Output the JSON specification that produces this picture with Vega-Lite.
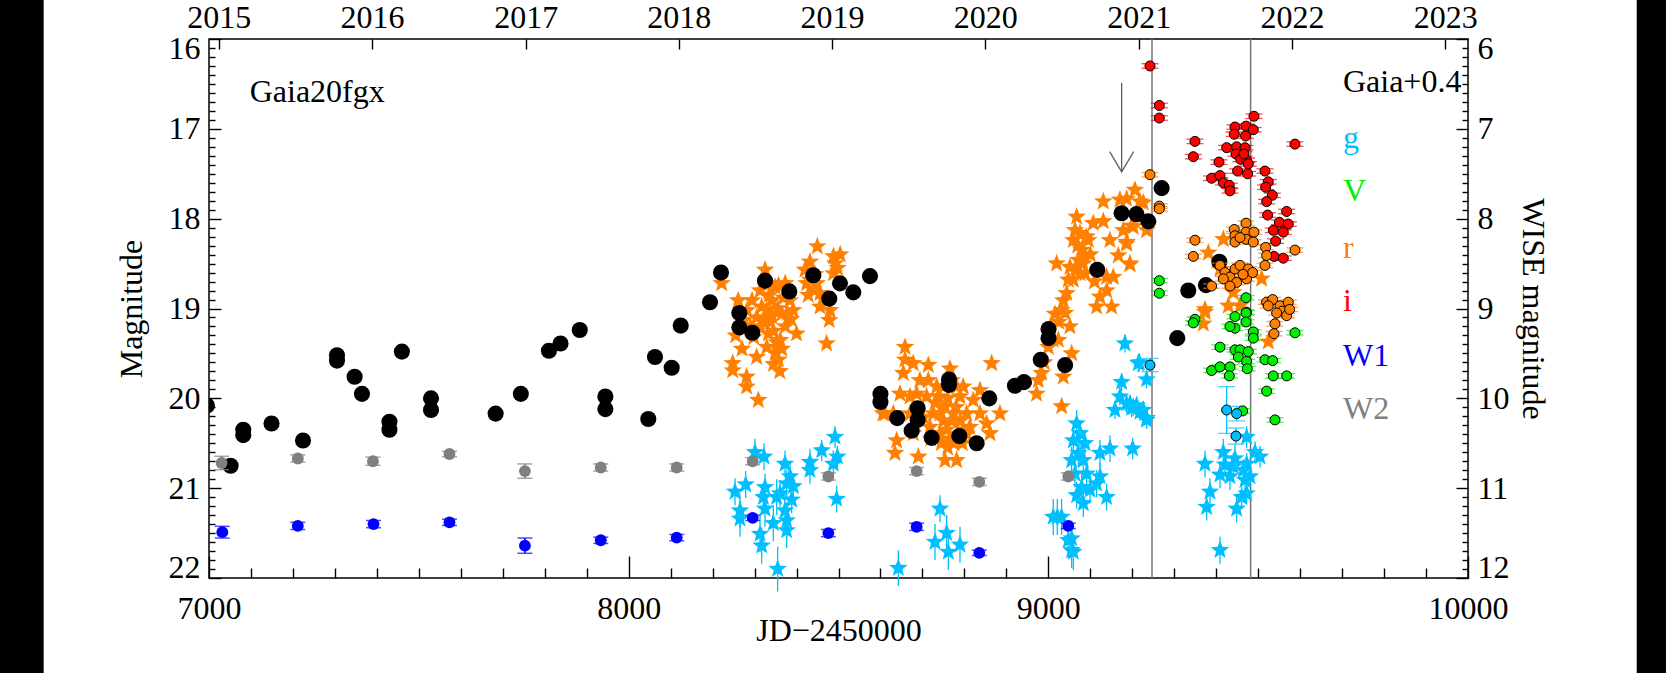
{
  "$schema": "https://vega.github.io/schema/vega-lite/v6.json",
  "width": 1259,
  "height": 539,
  "autosize": {"type": "none"},
  "padding": {"left": 209, "top": 39, "right": 198, "bottom": 95},
  "background": "white",
  "config": {
    "font": "Liberation Serif",
    "view": {"stroke": "black", "strokeWidth": 1.5},
    "axis": {"domain": false, "grid": false, "labelFont": "Liberation Serif", "labelFontSize": 32, "labelColor": "black", "titleFont": "Liberation Serif", "titleFontSize": 32, "titleFontWeight": "normal", "titleColor": "black", "tickColor": "black", "tickWidth": 1.4, "labelOverlap": false, "labelBound": false}
  },
  "datasets": {
    "epochs": [{"t": 9247}, {"t": 9482}],
    "gaia": [
      {"t":6995,"m":20.08},{"t":7051.5,"m":20.75},{"t":7081.6,"m":20.35},{"t":7081.6,"m":20.41},{"t":7149,"m":20.28},{"t":7224,"m":20.47},{"t":7305,"m":19.52},{"t":7305,"m":19.58},{"t":7347,"m":19.76},{"t":7364.5,"m":19.95},{"t":7430,"m":20.26},{"t":7430,"m":20.35},{"t":7459.6,"m":19.48},{"t":7529,"m":20.0},{"t":7529,"m":20.13},{"t":7683,"m":20.17},{"t":7743,"m":19.95},{"t":7810,"m":19.47},{"t":7837.6,"m":19.39},{"t":7883.5,"m":19.24},{"t":7944.5,"m":19.98},{"t":7944.5,"m":20.12},{"t":8046.8,"m":20.23},{"t":8062.7,"m":19.54},{"t":8102.5,"m":19.66},{"t":8124,"m":19.19},{"t":8193.8,"m":18.93},{"t":8220,"m":18.6},{"t":8263.7,"m":19.05},{"t":8263.7,"m":19.21},{"t":8294.6,"m":19.27},{"t":8324.8,"m":18.69},{"t":8382.8,"m":18.81},{"t":8440,"m":18.63},{"t":8478,"m":18.89},{"t":8503.5,"m":18.72},{"t":8535.3,"m":18.82},{"t":8575,"m":18.64},{"t":8600,"m":19.95},{"t":8600,"m":20.04},{"t":8640,"m":20.22},{"t":8688.6,"m":20.11},{"t":8688.6,"m":20.24},{"t":8674.3,"m":20.36},{"t":8722,"m":20.44},{"t":8763.3,"m":19.79},{"t":8763.3,"m":19.85},{"t":8787.9,"m":20.42},{"t":8829.2,"m":20.5},{"t":8859.3,"m":20.0},{"t":8920.5,"m":19.86},{"t":8941.9,"m":19.82},{"t":8982,"m":19.57},{"t":9000.5,"m":19.23},{"t":9000.5,"m":19.33},{"t":9040,"m":19.63},{"t":9116.6,"m":18.57},{"t":9174.6,"m":17.94},{"t":9210,"m":17.95},{"t":9238.2,"m":18.03},{"t":9270,"m":17.66},{"t":9307.3,"m":19.33},{"t":9333.5,"m":18.8},{"t":9375.6,"m":18.74},{"t":9407.4,"m":18.48}
    ],
    "ztfr": [
      {"t":8221.6,"m":18.72},{"t":8248,"m":19.61},{"t":8248,"m":19.69},{"t":8261,"m":18.91},{"t":8281,"m":19.76},{"t":8281,"m":19.87},{"t":8309,"m":20.02},{"t":8305,"m":19.54},{"t":8294,"m":18.91},{"t":8325,"m":18.57},{"t":8313,"m":18.8},{"t":8329,"m":19.02},{"t":8341,"m":18.91},{"t":8357,"m":18.74},{"t":8357,"m":19.57},{"t":8349,"m":19.5},{"t":8361,"m":19.35},{"t":8373,"m":19.2},{"t":8392,"m":19.02},{"t":8400,"m":19.28},{"t":8384,"m":18.91},{"t":8333,"m":19.28},{"t":8313,"m":19.2},{"t":8341,"m":19.09},{"t":8365,"m":19.06},{"t":8282,"m":19.02},{"t":8274,"m":19.13},{"t":8298,"m":19.32},{"t":8329,"m":19.43},{"t":8349,"m":18.76},{"t":8373,"m":18.72},{"t":8333,"m":18.72},{"t":8337,"m":19.15},{"t":8345,"m":19.25},{"t":8353,"m":19.38},{"t":8321,"m":19.12},{"t":8365,"m":19.45},{"t":8378,"m":19.05},{"t":8355,"m":19.0},{"t":8335,"m":18.85},{"t":8369,"m":18.88},{"t":8387,"m":19.12},{"t":8317,"m":18.98},{"t":8345,"m":19.62},{"t":8360,"m":19.7},{"t":8305,"m":19.1},{"t":8290,"m":19.2},{"t":8270,"m":19.45},{"t":8255,"m":19.3},
      {"t":8449.5,"m":18.31},{"t":8432,"m":18.48},{"t":8420,"m":18.57},{"t":8424,"m":18.72},{"t":8440,"m":18.79},{"t":8456,"m":18.83},{"t":8488,"m":18.42},{"t":8504,"m":18.4},{"t":8492,"m":18.5},{"t":8488,"m":18.61},{"t":8456,"m":18.98},{"t":8478,"m":19.13},{"t":8471.6,"m":19.39},{"t":8432,"m":18.68},{"t":8448,"m":18.72},{"t":8480,"m":19.02},{"t":8428,"m":18.85},{"t":8444,"m":18.62},{"t":8466,"m":18.9},{"t":8498,"m":18.55},
      {"t":8658.5,"m":19.43},{"t":8658.5,"m":19.57},{"t":8654.5,"m":19.72},{"t":8646.5,"m":19.95},{"t":8630.7,"m":20.17},{"t":8638.6,"m":20.47},{"t":8634.6,"m":20.61},{"t":8610.8,"m":20.17},{"t":8670.4,"m":19.98},{"t":8686.2,"m":19.95},{"t":8690.2,"m":20.65},{"t":8714,"m":19.63},{"t":8714,"m":19.8},{"t":8710,"m":19.98},{"t":8726,"m":20.17},{"t":8737.8,"m":19.98},{"t":8749.8,"m":19.87},{"t":8765.6,"m":19.67},{"t":8753.7,"m":20.69},{"t":8781.5,"m":20.69},{"t":8773.6,"m":20.17},{"t":8789.5,"m":19.98},{"t":8805.3,"m":20.17},{"t":8797.4,"m":20.35},{"t":8821.2,"m":20.02},{"t":8837,"m":19.91},{"t":8837,"m":20.17},{"t":8853,"m":20.28},{"t":8861,"m":20.39},{"t":8865,"m":19.61},{"t":8884.7,"m":20.17},{"t":8741.8,"m":20.17},{"t":8757.7,"m":20.35},{"t":8741.8,"m":20.39},{"t":8702,"m":20.21},{"t":8718,"m":20.32},{"t":8678.3,"m":20.39},{"t":8670.4,"m":20.17},{"t":8797,"m":19.87},{"t":8813,"m":20.32},{"t":8769.6,"m":19.8},{"t":8781.5,"m":19.87},{"t":8733.9,"m":19.87},{"t":8753.7,"m":20.09},{"t":8694,"m":19.8},{"t":8678,"m":19.61},{"t":8606,"m":20.17},{"t":8760,"m":20.0},{"t":8770,"m":20.25},{"t":8780,"m":20.1},{"t":8790,"m":20.25},{"t":8750,"m":20.25},{"t":8765,"m":20.45},{"t":8775,"m":20.5},{"t":8785,"m":20.4},{"t":8795,"m":20.5},{"t":8760,"m":20.55},{"t":8745,"m":20.5},{"t":8805,"m":20.4},{"t":8730,"m":20.05},{"t":8720,"m":20.45},
      {"t":8972.1,"m":19.95},{"t":8976.1,"m":19.8},{"t":8984,"m":19.72},{"t":9000,"m":19.43},{"t":9011.8,"m":19.35},{"t":9015.8,"m":19.06},{"t":9031.7,"m":19.02},{"t":9035.7,"m":18.91},{"t":9043.6,"m":18.83},{"t":9047.6,"m":18.68},{"t":9051.5,"m":18.54},{"t":9059.5,"m":18.24},{"t":9067.4,"m":17.98},{"t":9063.5,"m":18.13},{"t":9075.4,"m":18.16},{"t":9079.3,"m":18.35},{"t":9087.3,"m":18.42},{"t":9091.2,"m":18.2},{"t":9071.4,"m":18.46},{"t":9059.5,"m":18.68},{"t":9051.5,"m":19.2},{"t":9055.5,"m":19.5},{"t":9035.7,"m":19.76},{"t":9019.8,"m":18.5},{"t":9115,"m":18.98},{"t":9123,"m":18.87},{"t":9138.9,"m":18.8},{"t":9150.8,"m":18.98},{"t":9138.9,"m":18.65},{"t":9154.8,"m":18.65},{"t":9166.7,"m":18.41},{"t":9194.5,"m":18.5},{"t":9186.5,"m":18.28},{"t":9146.8,"m":18.24},{"t":9131,"m":18.03},{"t":9131,"m":17.81},{"t":9170.6,"m":17.79},{"t":9206.4,"m":17.68},{"t":9218.3,"m":17.81},{"t":9234.2,"m":18.13},{"t":9202.4,"m":18.09},{"t":9178.6,"m":18.13},{"t":9107.1,"m":18.05},{"t":9095.2,"m":18.24},{"t":9031.7,"m":20.09},{"t":9023.8,"m":19.35},{"t":9087.3,"m":18.61},{"t":9075.4,"m":18.61},{"t":9186.6,"m":17.78},{"t":9226.3,"m":17.82},{"t":9198.5,"m":18.08},{"t":9186.6,"m":18.26},{"t":9194.5,"m":18.51},{"t":8990,"m":19.6},{"t":9005,"m":19.2},{"t":9025,"m":19.15},{"t":9040,"m":19.05},{"t":9070,"m":18.3},{"t":9083,"m":18.5},{"t":9065,"m":18.55},{"t":9100,"m":18.4},{"t":9110,"m":18.7},
      {"t":9381.2,"m":18.38},{"t":9417,"m":18.23},{"t":9409,"m":18.56},{"t":9428.9,"m":18.97},{"t":9373.2,"m":19.01},{"t":9508.3,"m":18.67},{"t":9456.7,"m":18.97},{"t":9440.8,"m":18.82},{"t":9373.2,"m":19.04},{"t":9369.3,"m":19.17},{"t":9524.2,"m":19.37}
    ],
    "ztfg": [
      {"t":8253.4,"m":21.04,"e":0.15},{"t":8265.3,"m":21.25,"e":0.2},{"t":8265.3,"m":21.34,"e":0.2},{"t":8278.8,"m":20.96,"e":0.15},{"t":8301,"m":20.6,"e":0.15},{"t":8322.5,"m":20.65,"e":0.15},{"t":8324.9,"m":20.99,"e":0.15},{"t":8321,"m":21.1,"e":0.15},{"t":8324.9,"m":21.23,"e":0.2},{"t":8313,"m":21.51,"e":0.2},{"t":8317,"m":21.64,"e":0.2},{"t":8344.7,"m":21.39,"e":0.2},{"t":8355,"m":21.9,"e":0.25},{"t":8352.7,"m":21.1,"e":0.2},{"t":8372.5,"m":20.73,"e":0.15},{"t":8376.5,"m":20.95,"e":0.15},{"t":8384.5,"m":20.87,"e":0.15},{"t":8392.4,"m":20.98,"e":0.15},{"t":8372.5,"m":21.25,"e":0.2},{"t":8376.5,"m":21.36,"e":0.2},{"t":8376.5,"m":21.47,"e":0.2},{"t":8432,"m":20.71,"e":0.15},{"t":8432,"m":20.8,"e":0.15},{"t":8460,"m":20.58,"e":0.12},{"t":8491.7,"m":20.43,"e":0.12},{"t":8497.3,"m":20.65,"e":0.12},{"t":8487.7,"m":20.73,"e":0.15},{"t":8495.6,"m":21.12,"e":0.15},{"t":8360.6,"m":21.06,"e":0.15},{"t":8388.4,"m":21.13,"e":0.15},
      {"t":8642.6,"m":21.89,"e":0.2},{"t":8741.8,"m":21.23,"e":0.15},{"t":8729.9,"m":21.6,"e":0.2},{"t":8757.7,"m":21.5,"e":0.2},{"t":8761.7,"m":21.71,"e":0.2},{"t":8789.5,"m":21.63,"e":0.2},
      {"t":9011.8,"m":21.32,"e":0.2},{"t":9031.6,"m":21.32,"e":0.2},{"t":9047.5,"m":21.58,"e":0.2},{"t":9055.5,"m":21.69,"e":0.2},{"t":9021.4,"m":21.32,"e":0.2},{"t":9059.5,"m":21.71,"e":0.2},{"t":9055.5,"m":21.56,"e":0.2},{"t":9067.4,"m":20.28,"e":0.15},{"t":9059.5,"m":20.47,"e":0.15},{"t":9075.4,"m":20.39,"e":0.15},{"t":9087.3,"m":20.5,"e":0.15},{"t":9071.4,"m":20.61,"e":0.15},{"t":9055.5,"m":20.69,"e":0.15},{"t":9083.3,"m":20.69,"e":0.15},{"t":9063.5,"m":20.84,"e":0.15},{"t":9091.2,"m":20.84,"e":0.15},{"t":9079.3,"m":20.99,"e":0.15},{"t":9067.4,"m":21.08,"e":0.15},{"t":9083.3,"m":21.17,"e":0.15},{"t":9099.2,"m":21.02,"e":0.15},{"t":9123,"m":20.87,"e":0.15},{"t":9115,"m":20.95,"e":0.15},{"t":9123,"m":20.61,"e":0.15},{"t":9146.8,"m":20.56,"e":0.15},{"t":9138.9,"m":21.1,"e":0.15},{"t":9200.8,"m":20.56,"e":0.12},{"t":9182.5,"m":19.39,"e":0.1},{"t":9216.7,"m":19.6,"e":0.1},{"t":9234.1,"m":19.79,"e":0.1},{"t":9174.6,"m":19.82,"e":0.1},{"t":9158.7,"m":20.13,"e":0.1},{"t":9186.5,"m":20.06,"e":0.1},{"t":9202.4,"m":20.1,"e":0.1},{"t":9218.3,"m":20.15,"e":0.1},{"t":9234.1,"m":20.22,"e":0.1},{"t":9170.6,"m":19.98,"e":0.1},{"t":9198.4,"m":20.11,"e":0.1},{"t":9210.3,"m":20.08,"e":0.1},{"t":9226.2,"m":20.13,"e":0.1},{"t":9214.4,"m":19.61,"e":0.1},{"t":9194.5,"m":20.06,"e":0.1},{"t":9234.2,"m":20.24,"e":0.1},
      {"t":9373.2,"m":20.73,"e":0.15},{"t":9416.9,"m":20.6,"e":0.15},{"t":9409,"m":20.85,"e":0.15},{"t":9385.2,"m":21.04,"e":0.15},{"t":9377.2,"m":21.21,"e":0.15},{"t":9444.7,"m":20.67,"e":0.15},{"t":9440.8,"m":20.76,"e":0.15},{"t":9432.8,"m":20.87,"e":0.15},{"t":9448.7,"m":21.23,"e":0.15},{"t":9409,"m":21.69,"e":0.15},{"t":9472.5,"m":20.43,"e":0.12},{"t":9492.4,"m":20.6,"e":0.12},{"t":9504.3,"m":20.65,"e":0.12},{"t":9472.5,"m":20.73,"e":0.12},{"t":9468.5,"m":20.91,"e":0.12},{"t":9472.5,"m":21.06,"e":0.12},{"t":9460.6,"m":21.1,"e":0.12},{"t":9464.6,"m":20.8,"e":0.12},{"t":9480.5,"m":20.87,"e":0.12},{"t":9420.9,"m":20.74,"e":0.12}
    ],
    "phot": [
      {"b":"i","t":9242.2,"m":16.3,"e":0.025},{"b":"i","t":9264.4,"m":16.74,"e":0.025},{"b":"i","t":9264.4,"m":16.88,"e":0.025},{"b":"i","t":9349.4,"m":17.14,"e":0.025},{"b":"i","t":9345.5,"m":17.31,"e":0.025},{"b":"i","t":9406.6,"m":17.37,"e":0.025},{"b":"i","t":9424.9,"m":17.21,"e":0.025},{"b":"i","t":9389.1,"m":17.55,"e":0.025},{"b":"i","t":9409,"m":17.52,"e":0.025},{"b":"i","t":9417,"m":17.6,"e":0.025},{"b":"i","t":9431.2,"m":17.63,"e":0.025},{"b":"i","t":9432.8,"m":17.69,"e":0.025},{"b":"i","t":9444.7,"m":16.98,"e":0.025},{"b":"i","t":9443,"m":17.06,"e":0.025},{"b":"i","t":9471,"m":16.97,"e":0.025},{"b":"i","t":9490,"m":16.86,"e":0.025},{"b":"i","t":9488.4,"m":17.01,"e":0.025},{"b":"i","t":9470,"m":17.08,"e":0.025},{"b":"i","t":9448.7,"m":17.2,"e":0.025},{"b":"i","t":9447,"m":17.28,"e":0.025},{"b":"i","t":9468.6,"m":17.21,"e":0.025},{"b":"i","t":9458.3,"m":17.34,"e":0.025},{"b":"i","t":9472.5,"m":17.35,"e":0.025},{"b":"i","t":9476.5,"m":17.39,"e":0.025},{"b":"i","t":9451,"m":17.47,"e":0.025},{"b":"i","t":9474.9,"m":17.5,"e":0.025},{"b":"i","t":9466.2,"m":17.28,"e":0.025},{"b":"i","t":9516.2,"m":17.47,"e":0.025},{"b":"i","t":9524,"m":17.59,"e":0.025},{"b":"i","t":9517.8,"m":17.65,"e":0.025},{"b":"i","t":9533.7,"m":17.74,"e":0.025},{"b":"i","t":9520.2,"m":17.81,"e":0.025},{"b":"i","t":9522.6,"m":17.96,"e":0.025},{"b":"i","t":9567.9,"m":17.92,"e":0.025},{"b":"i","t":9550.4,"m":18.04,"e":0.025},{"b":"i","t":9571.8,"m":18.06,"e":0.025},{"b":"i","t":9536.1,"m":18.13,"e":0.025},{"b":"i","t":9559.9,"m":18.15,"e":0.025},{"b":"i","t":9541.6,"m":18.25,"e":0.025},{"b":"i","t":9537.7,"m":18.42,"e":0.025},{"b":"i","t":9559.9,"m":18.44,"e":0.025},{"b":"i","t":9587.7,"m":17.17,"e":0.025},
      {"b":"r","t":9242.2,"m":17.51,"e":0.025},{"b":"r","t":9264.4,"m":17.86,"e":0.025},{"b":"r","t":9264.4,"m":17.89,"e":0.025},{"b":"r","t":9349.4,"m":18.24,"e":0.025},{"b":"r","t":9345.5,"m":18.42,"e":0.025},{"b":"r","t":9443,"m":18.12,"e":0.025},{"b":"r","t":9444.7,"m":18.19,"e":0.025},{"b":"r","t":9444.7,"m":18.26,"e":0.025},{"b":"r","t":9471,"m":18.05,"e":0.025},{"b":"r","t":9471,"m":18.15,"e":0.025},{"b":"r","t":9471,"m":18.23,"e":0.025},{"b":"r","t":9490,"m":18.15,"e":0.025},{"b":"r","t":9488.4,"m":18.26,"e":0.025},{"b":"r","t":9456.7,"m":18.21,"e":0.025},{"b":"r","t":9409,"m":18.52,"e":0.025},{"b":"r","t":9421,"m":18.6,"e":0.025},{"b":"r","t":9432.8,"m":18.65,"e":0.025},{"b":"r","t":9444.7,"m":18.56,"e":0.025},{"b":"r","t":9456.7,"m":18.52,"e":0.025},{"b":"r","t":9476.5,"m":18.56,"e":0.025},{"b":"r","t":9472.5,"m":18.67,"e":0.025},{"b":"r","t":9448.7,"m":18.71,"e":0.025},{"b":"r","t":9432.8,"m":18.75,"e":0.025},{"b":"r","t":9417,"m":18.67,"e":0.025},{"b":"r","t":9389,"m":18.75,"e":0.025},{"b":"r","t":9486.8,"m":18.6,"e":0.025},{"b":"r","t":9464,"m":18.62,"e":0.025},{"b":"r","t":9517.8,"m":18.32,"e":0.025},{"b":"r","t":9520.2,"m":18.41,"e":0.025},{"b":"r","t":9516.2,"m":18.52,"e":0.025},{"b":"r","t":9587.7,"m":18.35,"e":0.025},{"b":"r","t":9520,"m":18.93,"e":0.025},{"b":"r","t":9534.5,"m":18.9,"e":0.025},{"b":"r","t":9524,"m":18.97,"e":0.025},{"b":"r","t":9552,"m":18.97,"e":0.025},{"b":"r","t":9558,"m":19.03,"e":0.025},{"b":"r","t":9571.8,"m":18.93,"e":0.025},{"b":"r","t":9568,"m":19.08,"e":0.025},{"b":"r","t":9575,"m":19.01,"e":0.025},{"b":"r","t":9544,"m":19.05,"e":0.025},{"b":"r","t":9540,"m":19.17,"e":0.025},{"b":"r","t":9537.7,"m":19.28,"e":0.025},
      {"b":"V","t":9264.4,"m":18.69,"e":0.025},{"b":"V","t":9264.4,"m":18.83,"e":0.025},{"b":"V","t":9471,"m":18.88,"e":0.025},{"b":"V","t":9472,"m":19.04,"e":0.025},{"b":"V","t":9349.4,"m":19.12,"e":0.025},{"b":"V","t":9345.5,"m":19.16,"e":0.025},{"b":"V","t":9444.7,"m":19.09,"e":0.025},{"b":"V","t":9444.7,"m":19.22,"e":0.025},{"b":"V","t":9432.8,"m":19.2,"e":0.025},{"b":"V","t":9471,"m":19.05,"e":0.025},{"b":"V","t":9471,"m":19.15,"e":0.025},{"b":"V","t":9488.4,"m":19.26,"e":0.025},{"b":"V","t":9488.4,"m":19.33,"e":0.025},{"b":"V","t":9587.7,"m":19.27,"e":0.025},{"b":"V","t":9409,"m":19.43,"e":0.025},{"b":"V","t":9444.7,"m":19.46,"e":0.025},{"b":"V","t":9456.7,"m":19.46,"e":0.025},{"b":"V","t":9476.5,"m":19.48,"e":0.025},{"b":"V","t":9452.7,"m":19.54,"e":0.025},{"b":"V","t":9472.5,"m":19.59,"e":0.025},{"b":"V","t":9474,"m":19.67,"e":0.025},{"b":"V","t":9516.2,"m":19.57,"e":0.025},{"b":"V","t":9534.5,"m":19.58,"e":0.025},{"b":"V","t":9389.1,"m":19.69,"e":0.025},{"b":"V","t":9409,"m":19.65,"e":0.025},{"b":"V","t":9432.8,"m":19.65,"e":0.025},{"b":"V","t":9431.2,"m":19.75,"e":0.025},{"b":"V","t":9536,"m":19.75,"e":0.025},{"b":"V","t":9568,"m":19.75,"e":0.025},{"b":"V","t":9520.2,"m":19.92,"e":0.025},{"b":"V","t":9463,"m":20.14,"e":0.025},{"b":"V","t":9540,"m":20.24,"e":0.025},
      {"b":"g","t":9242.2,"m":19.63,"e":0.074},{"b":"g","t":9424.9,"m":20.13,"e":0.26},{"b":"g","t":9448.7,"m":20.17,"e":0.08},{"b":"g","t":9447.1,"m":20.42,"e":0.09}
    ],
    "wise": [
      {"b":"W2","t":7030,"m":10.72,"e":0.075},{"b":"W2","t":7211.6,"m":10.67,"e":0.04},{"b":"W2","t":7390.6,"m":10.7,"e":0.045},{"b":"W2","t":7573,"m":10.62,"e":0.03},{"b":"W2","t":7752.8,"m":10.81,"e":0.08},{"b":"W2","t":7933.5,"m":10.77,"e":0.04},{"b":"W2","t":8114.4,"m":10.77,"e":0.04},{"b":"W2","t":8295.5,"m":10.7,"e":0.04},{"b":"W2","t":8475.8,"m":10.87,"e":0.04},{"b":"W2","t":8686.2,"m":10.81,"e":0.04},{"b":"W2","t":8835.5,"m":10.93,"e":0.04},{"b":"W2","t":9047.5,"m":10.87,"e":0.04},
      {"b":"W1","t":7031.7,"m":11.49,"e":0.065},{"b":"W1","t":7211.6,"m":11.42,"e":0.04},{"b":"W1","t":7392,"m":11.4,"e":0.04},{"b":"W1","t":7573,"m":11.38,"e":0.035},{"b":"W1","t":7752.8,"m":11.64,"e":0.085},{"b":"W1","t":7933.5,"m":11.58,"e":0.035},{"b":"W1","t":8114.4,"m":11.55,"e":0.035},{"b":"W1","t":8295.5,"m":11.33,"e":0.03},{"b":"W1","t":8475.8,"m":11.5,"e":0.04},{"b":"W1","t":8686.2,"m":11.43,"e":0.04},{"b":"W1","t":8835.5,"m":11.72,"e":0.03},{"b":"W1","t":9047.5,"m":11.42,"e":0.03}
    ]
  },
  "layer": [
    {
      "layer": [
        {"data": {"values": [{}]}, "mark": {"type": "rect", "color": "black", "clip": false}, "encoding": {"x": {"datum": 6300, "type": "quantitative", "scale": {"domain": [7000, 10000], "nice": false, "zero": false}, "axis": null}, "x2": {"datum": 6606}, "y": {"datum": 14, "type": "quantitative", "scale": {"domain": [16, 22], "reverse": true, "nice": false, "zero": false}, "axis": null}, "y2": {"datum": 24}}},
        {"data": {"values": [{}]}, "mark": {"type": "rect", "color": "black", "clip": false}, "encoding": {"x": {"datum": 10402, "type": "quantitative", "scale": {"domain": [7000, 10000], "nice": false, "zero": false}, "axis": null}, "x2": {"datum": 10700}, "y": {"datum": 14, "type": "quantitative", "scale": {"domain": [16, 22], "reverse": true, "nice": false, "zero": false}, "axis": null}, "y2": {"datum": 24}}},
        {"data": {"name": "epochs"}, "mark": {"type": "rule", "color": "#777777", "strokeWidth": 1.5}, "encoding": {"x": {"field": "t", "type": "quantitative", "scale": {"domain": [7000, 10000], "nice": false, "zero": false}, "axis": null}}}
      ]
    },
    {
      "encoding": {
        "x": {"field": "t", "type": "quantitative", "scale": {"domain": [7000, 10000], "nice": false, "zero": false},
          "axis": {"orient": "bottom", "values": [7000,7100,7200,7300,7400,7500,7600,7700,7800,7900,8000,8100,8200,8300,8400,8500,8600,8700,8800,8900,9000,9100,9200,9300,9400,9500,9600,9700,9800,9900,10000],
            "labelExpr": "datum.value % 1000 === 0 ? '' + datum.value : ''",
            "tickSize": {"condition": {"test": "datum.value % 1000 === 0", "value": -22}, "value": -10},
            "labelFontSize": {"condition": {"test": "datum.value % 1000 === 0", "value": 32}, "value": 0},
            "labelPadding": 37, "labelFlush": false, "labelOverlap": false, "title": "JD−2450000", "titlePadding": -9}},
        "y": {"field": "m", "type": "quantitative", "scale": {"domain": [16, 22], "reverse": true, "nice": false, "zero": false},
          "axis": {"orient": "left", "values": [16,16.1,16.2,16.3,16.4,16.5,16.6,16.7,16.8,16.9,17,17.1,17.2,17.3,17.4,17.5,17.6,17.7,17.8,17.9,18,18.1,18.2,18.3,18.4,18.5,18.6,18.7,18.8,18.9,19,19.1,19.2,19.3,19.4,19.5,19.6,19.7,19.8,19.9,20,20.1,20.2,20.3,20.4,20.5,20.6,20.7,20.8,20.9,21,21.1,21.2,21.3,21.4,21.5,21.6,21.7,21.8,21.9,22],
            "labelExpr": "round(datum.value*10) % 10 === 0 ? '' + round(datum.value) : ''",
            "tickSize": {"condition": {"test": "round(datum.value*10) % 10 === 0", "value": -12}, "value": -6},
            "labelFontSize": {"condition": {"test": "round(datum.value*10) % 10 === 0", "value": 32}, "value": 0},
            "labelPadding": 21, "labelFlush": true, "labelFlushOffset": 6, "labelOverlap": false, "title": "Magnitude", "titlePadding": 20}},
        "color": {"field": "b", "type": "nominal",
          "scale": {"domain": ["Gaia+0.4", "g", "V", "r", "i", "W1", "W2"], "range": ["black", "#00BFFF", "#00EE00", "#FF8000", "#FF0000", "#0000FF", "#808080"]},
          "legend": null}
      },
      "layer": [
        {"data": {"name": "ztfr"}, "mark": {"type": "point", "shape": "M0,-1L0.247,-0.34L0.951,-0.309L0.399,0.13L0.588,0.809L0,0.42L-0.588,0.809L-0.399,0.13L-0.951,-0.309L-0.247,-0.34Z", "filled": true, "size": 380, "opacity": 1}, "encoding": {"color": {"value": "#FF8000"}}},
        {"data": {"name": "ztfg"}, "mark": {"type": "errorbar", "thickness": 1.3}, "encoding": {"yError": {"field": "e"}, "color": {"value": "#00BFFF"}}},
        {"data": {"name": "ztfg"}, "mark": {"type": "point", "shape": "M0,-1L0.247,-0.34L0.951,-0.309L0.399,0.13L0.588,0.809L0,0.42L-0.588,0.809L-0.399,0.13L-0.951,-0.309L-0.247,-0.34Z", "filled": true, "size": 380, "opacity": 1}, "encoding": {"color": {"value": "#00BFFF"}}},
        {"data": {"name": "gaia"}, "mark": {"type": "point", "filled": true, "size": 260, "opacity": 1, "clip": true}, "encoding": {"color": {"value": "black"}}},
        {"data": {"name": "phot"}, "mark": {"type": "errorbar", "thickness": 1.3, "ticks": {"size": 17, "thickness": 1.3}}, "encoding": {"yError": {"field": "e"}}},
        {"data": {"name": "phot"}, "mark": {"type": "point", "filled": true, "size": 100, "opacity": 1, "stroke": "black", "strokeWidth": 1}}
      ]
    },
    {
      "data": {"name": "wise"},
      "encoding": {
        "x": {"field": "t", "type": "quantitative", "scale": {"domain": [7000, 10000], "nice": false, "zero": false},
          "axis": {"orient": "top", "values": [7023.5, 7388.5, 7754.5, 8119.5, 8484.5, 8849.5, 9215.5, 9580.5, 9945.5],
            "labelExpr": "'' + (2015 + round((datum.value - 7023.5) / 365.25))", "tickSize": -10, "labelPadding": 15, "labelFlush": false, "labelOverlap": false, "title": null}},
        "y": {"field": "m", "type": "quantitative", "scale": {"domain": [6, 12], "reverse": true, "nice": false, "zero": false},
          "axis": {"orient": "right", "values": [6,6.1,6.2,6.3,6.4,6.5,6.6,6.7,6.8,6.9,7,7.1,7.2,7.3,7.4,7.5,7.6,7.7,7.8,7.9,8,8.1,8.2,8.3,8.4,8.5,8.6,8.7,8.8,8.9,9,9.1,9.2,9.3,9.4,9.5,9.6,9.7,9.8,9.9,10,10.1,10.2,10.3,10.4,10.5,10.6,10.7,10.8,10.9,11,11.1,11.2,11.3,11.4,11.5,11.6,11.7,11.8,11.9,12],
            "labelExpr": "round(datum.value*10) % 10 === 0 ? '' + round(datum.value) : ''",
            "tickSize": {"condition": {"test": "round(datum.value*10) % 10 === 0", "value": -12}, "value": -6},
            "labelFontSize": {"condition": {"test": "round(datum.value*10) % 10 === 0", "value": 32}, "value": 0},
            "labelPadding": 21, "labelFlush": true, "labelFlushOffset": 6, "labelOverlap": false, "title": "WISE magnitude", "titlePadding": 6}},
        "color": {"field": "b", "type": "nominal",
          "scale": {"domain": ["Gaia+0.4", "g", "V", "r", "i", "W1", "W2"], "range": ["black", "#00BFFF", "#00EE00", "#FF8000", "#FF0000", "#0000FF", "#808080"]},
          "legend": null}
      },
      "layer": [
        {"mark": {"type": "errorbar", "thickness": 1.5, "ticks": {"size": 15, "thickness": 1.5}}, "encoding": {"yError": {"field": "e"}}},
        {"mark": {"type": "point", "filled": true, "size": 140, "opacity": 1}}
      ]
    },
    {
      "layer": [
        {"data": {"values": [{}]}, "mark": {"type": "rule", "color": "#606060", "strokeWidth": 1.3}, "encoding": {"x": {"datum": 9174.7, "type": "quantitative", "scale": {"domain": [7000, 10000], "nice": false, "zero": false}, "axis": null}, "y": {"datum": 16.49, "type": "quantitative", "scale": {"domain": [16, 22], "reverse": true, "nice": false, "zero": false}, "axis": null}, "y2": {"datum": 17.48}}},
        {"data": {"values": [{}]}, "mark": {"type": "point", "shape": "M-1,-1.7L0,0L1,-1.7", "filled": false, "size": 576, "opacity": 1, "stroke": "#606060", "strokeWidth": 1.3}, "encoding": {"x": {"datum": 9174.7, "type": "quantitative", "scale": {"domain": [7000, 10000], "nice": false, "zero": false}, "axis": null}, "y": {"datum": 17.48, "type": "quantitative", "scale": {"domain": [16, 22], "reverse": true, "nice": false, "zero": false}, "axis": null}}},
        {"data": {"values": [{}]}, "mark": {"type": "text", "text": "Gaia20fgx", "fontSize": 32, "align": "left", "baseline": "alphabetic", "color": "black"}, "encoding": {"x": {"datum": 7097, "type": "quantitative", "scale": {"domain": [7000, 10000], "nice": false, "zero": false}, "axis": null}, "y": {"datum": 16.7, "type": "quantitative", "scale": {"domain": [16, 22], "reverse": true, "nice": false, "zero": false}, "axis": null}}},
        {"data": {"values": [{}]}, "mark": {"type": "text", "text": "Gaia+0.4", "fontSize": 32, "align": "left", "baseline": "middle", "color": "black"}, "encoding": {"x": {"datum": 9702, "type": "quantitative", "scale": {"domain": [7000, 10000], "nice": false, "zero": false}, "axis": null}, "y": {"datum": 16.477, "type": "quantitative", "scale": {"domain": [16, 22], "reverse": true, "nice": false, "zero": false}, "axis": null}}},
        {"data": {"values": [{}]}, "mark": {"type": "text", "text": "g", "fontSize": 32, "align": "left", "baseline": "middle", "color": "#00BFFF"}, "encoding": {"x": {"datum": 9702, "type": "quantitative", "scale": {"domain": [7000, 10000], "nice": false, "zero": false}, "axis": null}, "y": {"datum": 17.104, "type": "quantitative", "scale": {"domain": [16, 22], "reverse": true, "nice": false, "zero": false}, "axis": null}}},
        {"data": {"values": [{}]}, "mark": {"type": "text", "text": "V", "fontSize": 32, "align": "left", "baseline": "middle", "color": "#00EE00"}, "encoding": {"x": {"datum": 9702, "type": "quantitative", "scale": {"domain": [7000, 10000], "nice": false, "zero": false}, "axis": null}, "y": {"datum": 17.696, "type": "quantitative", "scale": {"domain": [16, 22], "reverse": true, "nice": false, "zero": false}, "axis": null}}},
        {"data": {"values": [{}]}, "mark": {"type": "text", "text": "r", "fontSize": 32, "align": "left", "baseline": "middle", "color": "#FF8000"}, "encoding": {"x": {"datum": 9702, "type": "quantitative", "scale": {"domain": [7000, 10000], "nice": false, "zero": false}, "axis": null}, "y": {"datum": 18.323, "type": "quantitative", "scale": {"domain": [16, 22], "reverse": true, "nice": false, "zero": false}, "axis": null}}},
        {"data": {"values": [{}]}, "mark": {"type": "text", "text": "i", "fontSize": 32, "align": "left", "baseline": "middle", "color": "#FF0000"}, "encoding": {"x": {"datum": 9702, "type": "quantitative", "scale": {"domain": [7000, 10000], "nice": false, "zero": false}, "axis": null}, "y": {"datum": 18.914, "type": "quantitative", "scale": {"domain": [16, 22], "reverse": true, "nice": false, "zero": false}, "axis": null}}},
        {"data": {"values": [{}]}, "mark": {"type": "text", "text": "W1", "fontSize": 32, "align": "left", "baseline": "middle", "color": "#0000FF"}, "encoding": {"x": {"datum": 9702, "type": "quantitative", "scale": {"domain": [7000, 10000], "nice": false, "zero": false}, "axis": null}, "y": {"datum": 19.529, "type": "quantitative", "scale": {"domain": [16, 22], "reverse": true, "nice": false, "zero": false}, "axis": null}}},
        {"data": {"values": [{}]}, "mark": {"type": "text", "text": "W2", "fontSize": 32, "align": "left", "baseline": "middle", "color": "#808080"}, "encoding": {"x": {"datum": 9702, "type": "quantitative", "scale": {"domain": [7000, 10000], "nice": false, "zero": false}, "axis": null}, "y": {"datum": 20.121, "type": "quantitative", "scale": {"domain": [16, 22], "reverse": true, "nice": false, "zero": false}, "axis": null}}}
      ]
    }
  ],
  "resolve": {"scale": {"x": "independent", "y": "independent"}}
}
